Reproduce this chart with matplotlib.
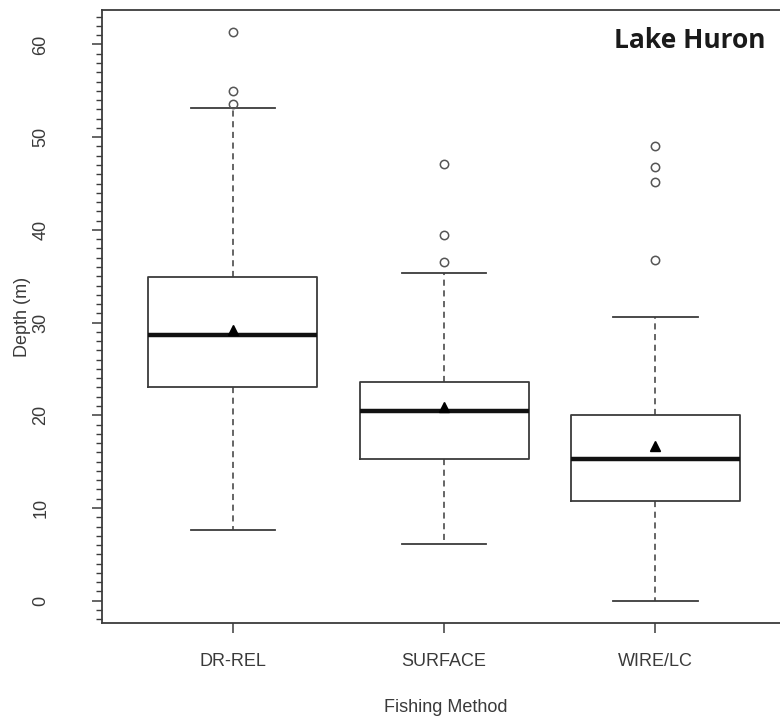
import matplotlib
matplotlib.use("Agg")
import matplotlib.pyplot as plt
from matplotlib.ticker import MultipleLocator

methods = ["DR-REL", "SURFACE", "WIRE/LC"]
whisker_low = [7.6, 6.1, 0.0]
q1 = [23.0, 15.25, 10.75]
median = [28.7, 20.5, 15.3]
q3 = [34.9, 23.6, 20.05]
whisker_high = [53.1, 35.3, 30.6]
means = [29.2, 20.9, 16.7]
outliers = [
    [61.3, 55.0, 53.6],
    [47.1, 39.4, 36.5],
    [49.0, 46.8, 45.2, 36.8],
]

W, H = 780, 723
dpi = 100
fig = plt.figure(figsize=(W / dpi, H / dpi), dpi=dpi)
left_px, right_px = 102, 102 + (3.63 - 0.381) * 211.3
top_px, bot_px = 10, 623.3
ax = fig.add_axes([left_px / W, 1 - bot_px / H, (right_px - left_px) / W, (bot_px - top_px) / H])

txt = "#3a3a3a"
line = "#3c3c3c"
stats = []
for i, m in enumerate(methods):
    stats.append(dict(label=m, whislo=whisker_low[i], q1=q1[i], med=median[i], q3=q3[i],
                      whishi=whisker_high[i], fliers=outliers[i], mean=means[i]))

ax.bxp(stats, positions=[1, 2, 3], widths=0.8, showmeans=True, showfliers=True,
       boxprops=dict(color=line, linewidth=1.3),
       whiskerprops=dict(color=line, linewidth=1.1, linestyle=(0, (4, 3))),
       capprops=dict(color=line, linewidth=1.3),
       medianprops=dict(color="#111111", linewidth=3.2),
       meanprops=dict(marker="^", markerfacecolor="black", markeredgecolor="black", markersize=7),
       flierprops=dict(marker="o", markerfacecolor="none", markeredgecolor="#555555",
                       markersize=6, markeredgewidth=1.1),
       capwidths=0.4)

ax.set_xlim(0.381, 3.63)
ax.set_ylim(-2.44, 63.72)
ax.yaxis.set_minor_locator(MultipleLocator(1))
ax.set_xticks([1, 2, 3])
ax.set_xticklabels(methods, fontsize=13, color=txt, family="Liberation Sans")
ax.set_yticks(range(0, 61, 10))
ax.set_yticklabels([str(v) for v in range(0, 61, 10)], rotation=90, va="center",
                   fontsize=13, color=txt, family="Liberation Sans")
ax.tick_params(axis="y", which="major", length=7, width=1.1, color=line, pad=31)
ax.tick_params(axis="y", which="minor", length=4, width=1.0, color=line)
ax.tick_params(axis="x", which="major", length=7, width=1.1, color=line, pad=14.5)
for s in ax.spines.values():
    s.set_color(line)
    s.set_linewidth(1.3)

ax.set_ylabel("Depth (m)", fontsize=13, color=txt, family="Liberation Sans", labelpad=1)
ax.set_xlabel("Fishing Method", fontsize=13, color=txt, family="Liberation Sans", labelpad=21)
fig.text(690 / W, 1 - 40 / H, "Lake Huron", fontsize=19, fontweight="bold",
         family="Open Sans", color="#1a1a1a", ha="center", va="center")

fig.savefig("out.png", dpi=dpi, facecolor="white")
